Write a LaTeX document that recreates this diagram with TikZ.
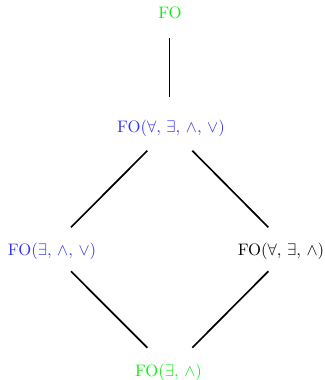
\documentclass[tikz,border=0pt]{standalone}
\definecolor{fogreen}{RGB}{20,235,20}
\definecolor{foblue}{RGB}{50,50,245}
\begin{document}
\begin{tikzpicture}[x=0.6pt,y=-0.6pt,
  lbl/.style={inner sep=0pt,font=\normalsize},
  edge/.style={line width=1pt,black}]
\useasboundingbox (0,0) rectangle (324,380);
\node[lbl,text=fogreen] (fo) at (170,13) {$\mathrm{FO}$};
\node[lbl,text=foblue] (m) at (171,128) {$\mathrm{FO}(\forall,\,\exists,\,\wedge,\,\vee)$};
\node[lbl,text=foblue] (l) at (52,251) {$\mathrm{FO}(\exists,\,\wedge,\,\vee)$};
\node[lbl,text=black] (r) at (281,251) {$\mathrm{FO}(\forall,\,\exists,\,\wedge)$};
\node[lbl,text=fogreen] (b) at (168.5,372) {$\mathrm{FO}(\exists,\,\wedge)$};
\draw[edge] ([shift={(-0.5,25)}]fo.center) -- ([shift={(-1.5,-31)}]m.center);
\draw[edge] ([shift={(-23.7,22.7)}]m.center) -- ([shift={(19,-23.7)}]l.center);
\draw[edge] ([shift={(21.3,22.7)}]m.center) -- ([shift={(-12.7,-23.7)}]r.center);
\draw[edge] ([shift={(19,20.3)}]l.center) -- ([shift={(-21.2,-24.3)}]b.center);
\draw[edge] ([shift={(-12.7,20.3)}]r.center) -- ([shift={(23.8,-24.3)}]b.center);
\end{tikzpicture}
\end{document}
